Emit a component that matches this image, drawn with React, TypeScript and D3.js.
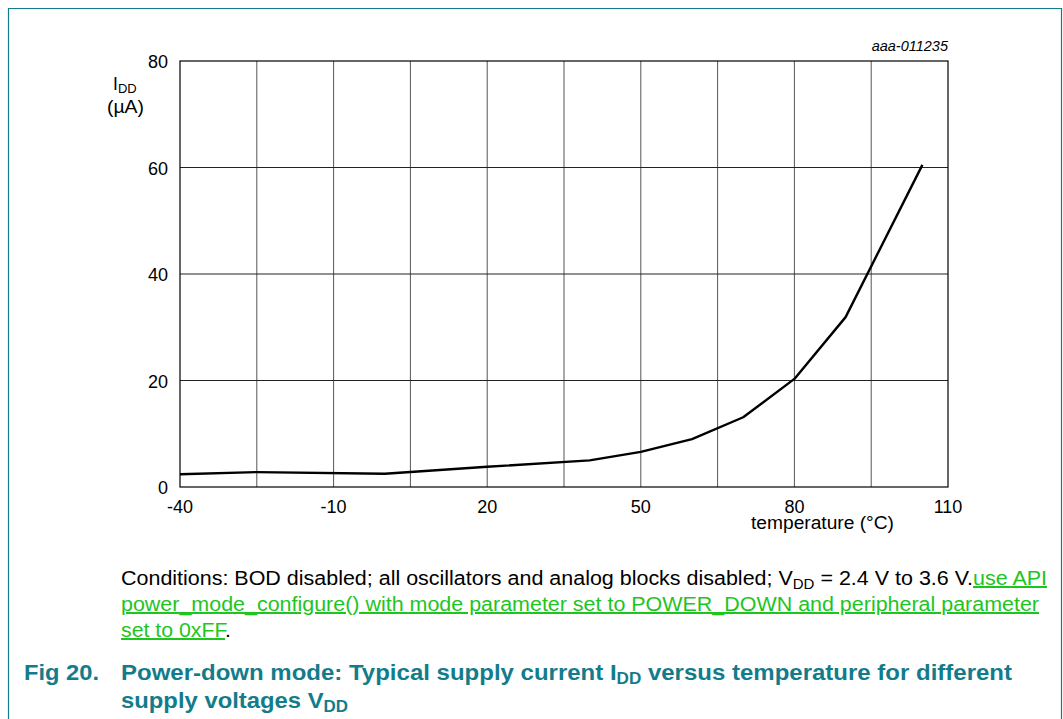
import React from 'react';
import * as d3 from 'd3';

// temperature (°C) vs supply current (µA)
const temps = [-40, -25, 0, 20, 40, 50, 60, 70, 80, 90, 105];
const idd = [2.4, 2.8, 2.5, 3.8, 5.0, 6.6, 9.0, 13.1, 20.3, 31.9, 60.5];
const xTicks = [-40, -10, 20, 50, 80, 110];
const xGrid = [-25, -10, 5, 20, 35, 50, 65, 80, 95];
const yTicks = [0, 20, 40, 60, 80];

const W = 1063;
const H = 719;
const plot = { left: 180, right: 948, top: 61, bottom: 487 };
const teal = '#137c8b';
const green = '#1ec51e';
const font = 'Liberation Sans, Arial, sans-serif';

export default function App() {
  const x = d3.scaleLinear().domain([-40, 110]).range([plot.left, plot.right]);
  const y = d3.scaleLinear().domain([0, 80]).range([plot.bottom, plot.top]);
  const line = d3.line<number>()
    .x((_, i) => x(temps[i]))
    .y((d) => y(d));

  return (
    <svg width={W} height={H} style={{ position: 'absolute', left: 0, top: 0, background: '#fff' }}>
      {/* page frame */}
      <path d={`M8.5,${H + 2} V8.5 H1061.5 V${H + 2}`} fill="none" stroke={teal} strokeWidth={1.2} />

      {/* grid */}
      {xGrid.map((t) => (
        <line key={'vx' + t} x1={x(t)} x2={x(t)} y1={plot.top} y2={plot.bottom} stroke="#555" strokeWidth={1} />
      ))}
      {yTicks.slice(1, -1).map((t) => (
        <line key={'hy' + t} x1={plot.left} x2={plot.right} y1={y(t)} y2={y(t)} stroke="#222" strokeWidth={1} />
      ))}
      <rect x={plot.left} y={plot.top} width={plot.right - plot.left} height={plot.bottom - plot.top}
        fill="none" stroke="#000" strokeWidth={1.2} />

      {/* curve */}
      <path d={line(idd) || ''} fill="none" stroke="#000" strokeWidth={2.4} strokeLinejoin="round" />

      {/* tick labels */}
      <g fontFamily={font} fontSize={18} fill="#000">
        {yTicks.map((t) => (
          <text key={'yt' + t} x={plot.left - 12} y={y(t) + 7} textAnchor="end">{t}</text>
        ))}
        {xTicks.map((t) => (
          <text key={'xt' + t} x={x(t)} y={plot.bottom + 26} textAnchor="middle">{t}</text>
        ))}
        <text x={751} y={529} fontSize={17.5} textLength={143} lengthAdjust="spacingAndGlyphs">temperature  (°C)</text>
        <text x={113} y={90} fontSize={17.5}>I<tspan fontSize={13} dy={3}>DD</tspan></text>
        <text x={107} y={113} fontSize={17.5} textLength={37} lengthAdjust="spacingAndGlyphs">(µA)</text>
        <text x={948} y={51} textAnchor="end" fontStyle="italic" fontSize={14.5}>aaa-011235</text>
      </g>

      {/* conditions note */}
      <g fontFamily={font} fontSize={20}>
        <text x={121} y={585} fill="#000" textLength={926} lengthAdjust="spacingAndGlyphs">
          Conditions: BOD disabled; all oscillators and analog blocks disabled; V<tspan fontSize={14} dy={4}>DD</tspan><tspan dy={-4}> = 2.4 V to 3.6 V.</tspan><tspan fill={green} textDecoration="underline">use API </tspan>
        </text>
        <text x={121} y={611} fill={green} textDecoration="underline" textLength={918} lengthAdjust="spacingAndGlyphs">
          power_mode_configure() with mode parameter set to POWER_DOWN and peripheral parameter 
        </text>
        <text x={121} y={637} fill={green} textLength={110} lengthAdjust="spacingAndGlyphs">
          <tspan textDecoration="underline">set to 0xFF</tspan><tspan fill="#000">.</tspan>
        </text>
      </g>

      {/* figure caption */}
      <g fontFamily={font} fontSize={22.5} fontWeight="bold" fill={teal}>
        <text x={24} y={680} textLength={75} lengthAdjust="spacingAndGlyphs">Fig 20.</text>
        <text x={121} y={680} textLength={891} lengthAdjust="spacingAndGlyphs">
          Power-down mode: Typical supply current I<tspan fontSize={16} dy={4}>DD</tspan><tspan dy={-4}> versus temperature for different</tspan>
        </text>
        <text x={121} y={708} textLength={227} lengthAdjust="spacingAndGlyphs">
          supply voltages V<tspan fontSize={16} dy={4}>DD</tspan>
        </text>
      </g>
    </svg>
  );
}
